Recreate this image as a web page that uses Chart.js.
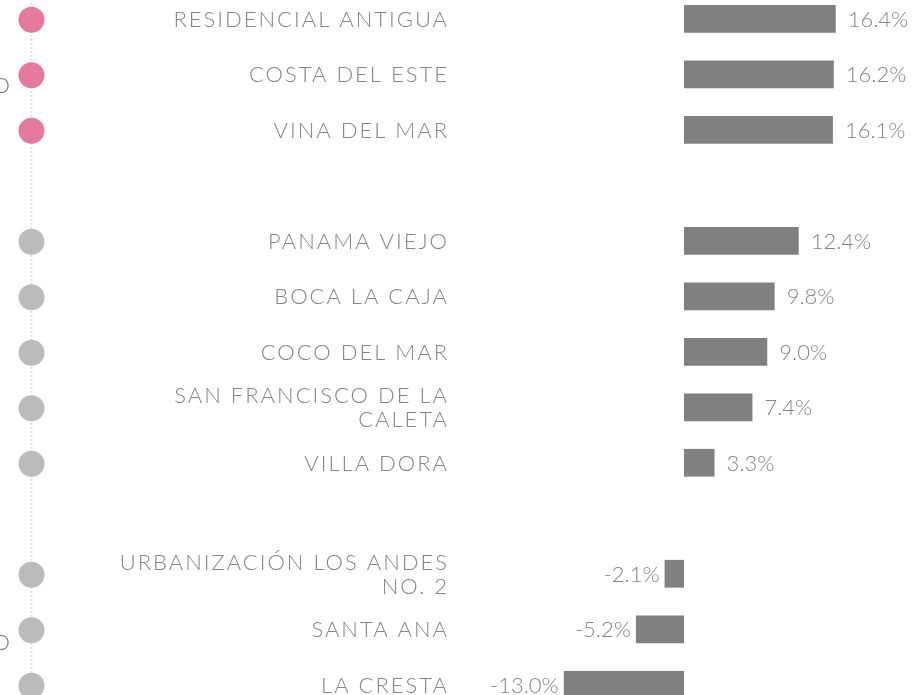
<!DOCTYPE html>
<html>
<head>
<meta charset="utf-8">
<script src="https://cdn.jsdelivr.net/npm/chart.js@4"></script>
<style>
  html,body{margin:0;padding:0;background:#fff;overflow:hidden;}
  #wrap{position:absolute;left:0;top:-9.25px;width:915px;height:721.5px;}
</style>
</head>
<body>
<div id="wrap"><canvas id="myChart"></canvas></div>
<script>
// neighbourhoods, empty strings are the gaps between groups
const categories=['RESIDENCIAL ANTIGUA','COSTA DEL ESTE','VINA DEL MAR','',
  'PANAMA VIEJO','BOCA LA CAJA','COCO DEL MAR',['SAN FRANCISCO DE LA','CALETA'],'VILLA DORA','',
  ['URBANIZACIÓN LOS ANDES','NO. 2'],'SANTA ANA','LA CRESTA']
const values=[16.4,16.2,16.1,null,12.4,9.8,9.0,7.4,3.3,null,-2.1,-5.2,-13.0]
// which rows get a pink dot
const highlighted=[true,true,true,false,false,false,false,false,false,false,false,false,false]
// group captions on the left (mostly cut off by the edge)
const groupCaptions=[{row:1,text:'AUMENTO'},{row:11,text:'DESCENSO'}]

const LABEL_FONT='300 22px Lato'
const VALUE_FONT='300 22px Lato'
const TEXT='#858585'

const decor={
  id:'decor',
  afterDatasetsDraw(chart){
    const ctx=chart.ctx
    const y=chart.scales.y
    const x=chart.scales.x
    ctx.save()
    // dotted guide line
    ctx.strokeStyle='#cfcfcf'
    ctx.lineWidth=1.5
    ctx.setLineDash([1.5,2.5])
    ctx.beginPath()
    ctx.moveTo(31.5,0)
    ctx.lineTo(31.5,chart.height)
    ctx.stroke()
    ctx.setLineDash([])

    ctx.textBaseline='middle'

    categories.forEach((lab,i)=>{
      const py=y.getPixelForValue(i)
      if(values[i]===null) return
      // dot
      ctx.fillStyle=highlighted[i]?'#e6799f':'#bbbbbb'
      ctx.beginPath()
      ctx.arc(31.5,py+1,13,0,Math.PI*2)
      ctx.fill()
      // label
      ctx.fillStyle=TEXT
      ctx.font=LABEL_FONT
      ctx.letterSpacing='2px'
      ctx.textAlign='right'
      const lines=Array.isArray(lab)?lab:[lab]
      lines.forEach((t,k)=>{
        ctx.fillText(t,449,py+1+(k-(lines.length-1)/2)*24)
      })
      // value
      ctx.font=VALUE_FONT
      ctx.letterSpacing='0px'
      const v=values[i]
      const end=x.getPixelForValue(v)
      const txt=v.toFixed(1)+'%'
      if(v>=0){
        ctx.textAlign='left'
        ctx.fillText(txt,end+12,py+1)
      }else{
        ctx.textAlign='right'
        ctx.fillText(txt,end-5,py+1)
      }
    })

    // captions
    ctx.fillStyle='#777'
    ctx.font=LABEL_FONT
    ctx.letterSpacing='2px'
    ctx.textAlign='right'
    groupCaptions.forEach(g=>{
      const py=y.getPixelForValue(g.row)+(g.row===1?12:14)
      ctx.fillText(g.text,12,py)
    })
    ctx.restore()
  }
}

const ctx=document.getElementById('myChart').getContext('2d')
const chart=new Chart(ctx,{
  type:'bar',
  data:{
    labels:categories,
    datasets:[{
      data:values,
      backgroundColor:'#808080',
      barPercentage:0.5,
      categoryPercentage:1
    }]
  },
  options:{
    indexAxis:'y',
    responsive:true,
    maintainAspectRatio:false,
    animation:false,
    layout:{padding:{left:499,right:9,top:0,bottom:0}},
    plugins:{legend:{display:false},tooltip:{enabled:false}},
    scales:{
      x:{type:'linear',min:-20,max:24,display:false},
      y:{display:false}
    }
  },
  plugins:[decor]
})
</script>
</body>
</html>
